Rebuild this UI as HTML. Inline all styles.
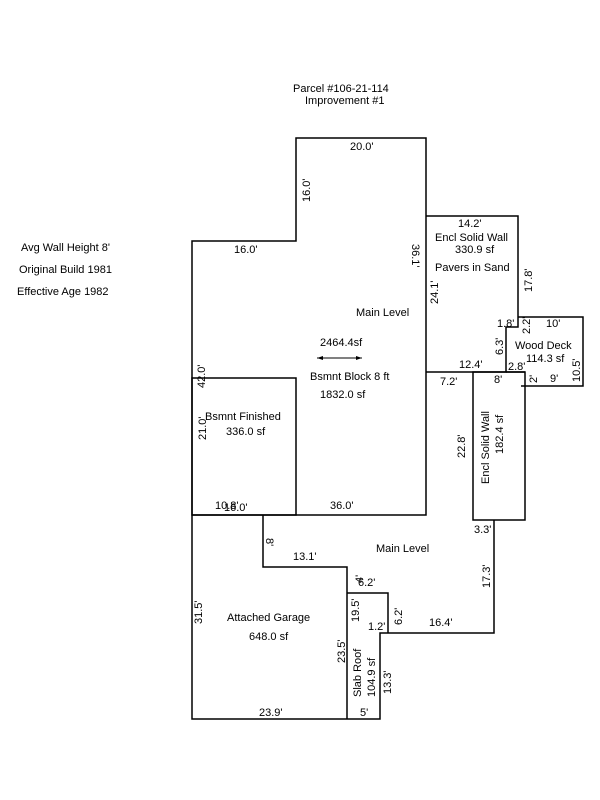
<!DOCTYPE html>
<html><head><style>
html,body{margin:0;padding:0;background:#fff;}
svg{display:block;}
text{font-family:"Liberation Sans",Arial,sans-serif;font-size:11px;fill:#000;}
</style></head><body>
<svg width="600" height="800" xmlns="http://www.w3.org/2000/svg">
<g stroke="#000" stroke-width="1.5" fill="none">
<polyline points="192,515 192,241 296,241 296,138 426,138 426,515 192,515"/>
<rect x="192" y="378" width="104" height="137"/>
<polyline points="426,216 518,216 518,327 506,327 506,372 426,372"/>
<polyline points="518,317 583,317 583,386 521,386"/>
<line x1="506" y1="372" x2="525" y2="372"/>
<rect x="473" y="372" width="52" height="148"/>
<polyline points="263,515 263,567 347,567 347,719"/>
<polyline points="192,515 192,719 380,719 380,633 494,633 494,520"/>
<polyline points="347,593 388,593 388,633"/>
</g>
<line x1="317" y1="358" x2="362" y2="358" stroke="#000" stroke-width="1"/>
<polygon points="317,358 323,356 323,360" fill="#000"/>
<polygon points="362,358 356,356 356,360" fill="#000"/>
<text x="293" y="92">Parcel #106-21-114</text>
<text x="305" y="104">Improvement #1</text>
<text x="21" y="251">Avg Wall Height 8'</text>
<text x="19" y="273">Original Build 1981</text>
<text x="17" y="295">Effective Age 1982</text>
<text x="350" y="150">20.0'</text>
<text x="234" y="253">16.0'</text>
<text x="356" y="316">Main Level</text>
<text x="320" y="346">2464.4sf</text>
<text x="310" y="380">Bsmnt Block 8 ft</text>
<text x="320" y="398">1832.0 sf</text>
<text x="458" y="227">14.2'</text>
<text x="435" y="241">Encl Solid Wall</text>
<text x="455" y="253">330.9 sf</text>
<text x="435" y="271">Pavers in Sand</text>
<text x="497" y="327">1.8'</text>
<text x="546" y="327">10'</text>
<text x="515" y="349">Wood Deck</text>
<text x="526" y="362">114.3 sf</text>
<text x="459" y="368">12.4'</text>
<text x="508" y="370">2.8'</text>
<text x="550" y="382">9'</text>
<text x="440" y="385">7.2'</text>
<text x="494" y="383">8'</text>
<text x="205" y="420">Bsmnt Finished</text>
<text x="226" y="435">336.0 sf</text>
<text x="215" y="509">10.8'</text>
<text x="224" y="511">16.0'</text>
<text x="330" y="509">36.0'</text>
<text x="474" y="533">3.3'</text>
<text x="376" y="552">Main Level</text>
<text x="293" y="560">13.1'</text>
<text x="358" y="586">6.2'</text>
<text x="227" y="621">Attached Garage</text>
<text x="249" y="640">648.0 sf</text>
<text x="368" y="630">1.2'</text>
<text x="429" y="626">16.4'</text>
<text x="259" y="716">23.9'</text>
<text x="360" y="716">5'</text>
<g>
<text transform="translate(310,202) rotate(-90)">16.0'</text>
<text transform="translate(412,244) rotate(90)">36.1'</text>
<text transform="translate(438,304) rotate(-90)">24.1'</text>
<text transform="translate(532,292) rotate(-90)">17.8'</text>
<text transform="translate(530,334) rotate(-90)">2.2'</text>
<text transform="translate(503,355) rotate(-90)">6.3'</text>
<text transform="translate(537,383) rotate(-90)">2'</text>
<text transform="translate(580,382) rotate(-90)">10.5'</text>
<text transform="translate(205,388) rotate(-90)">42.0'</text>
<text transform="translate(206,440) rotate(-90)">21.0'</text>
<text transform="translate(465,458) rotate(-90)">22.8'</text>
<text transform="translate(489,484) rotate(-90)">Encl Solid Wall</text>
<text transform="translate(503,454) rotate(-90)">182.4 sf</text>
<text transform="translate(266,538) rotate(90)">8'</text>
<text transform="translate(490,588) rotate(-90)">17.3'</text>
<text transform="translate(363,583) rotate(-90)">4'</text>
<text transform="translate(202,624) rotate(-90)">31.5'</text>
<text transform="translate(359,622) rotate(-90)">19.5'</text>
<text transform="translate(402,625) rotate(-90)">6.2'</text>
<text transform="translate(345,663) rotate(-90)">23.5'</text>
<text transform="translate(361,697) rotate(-90)">Slab Roof</text>
<text transform="translate(375,697) rotate(-90)">104.9 sf</text>
<text transform="translate(391,694) rotate(-90)">13.3'</text>
</g>
</svg>
</body></html>
